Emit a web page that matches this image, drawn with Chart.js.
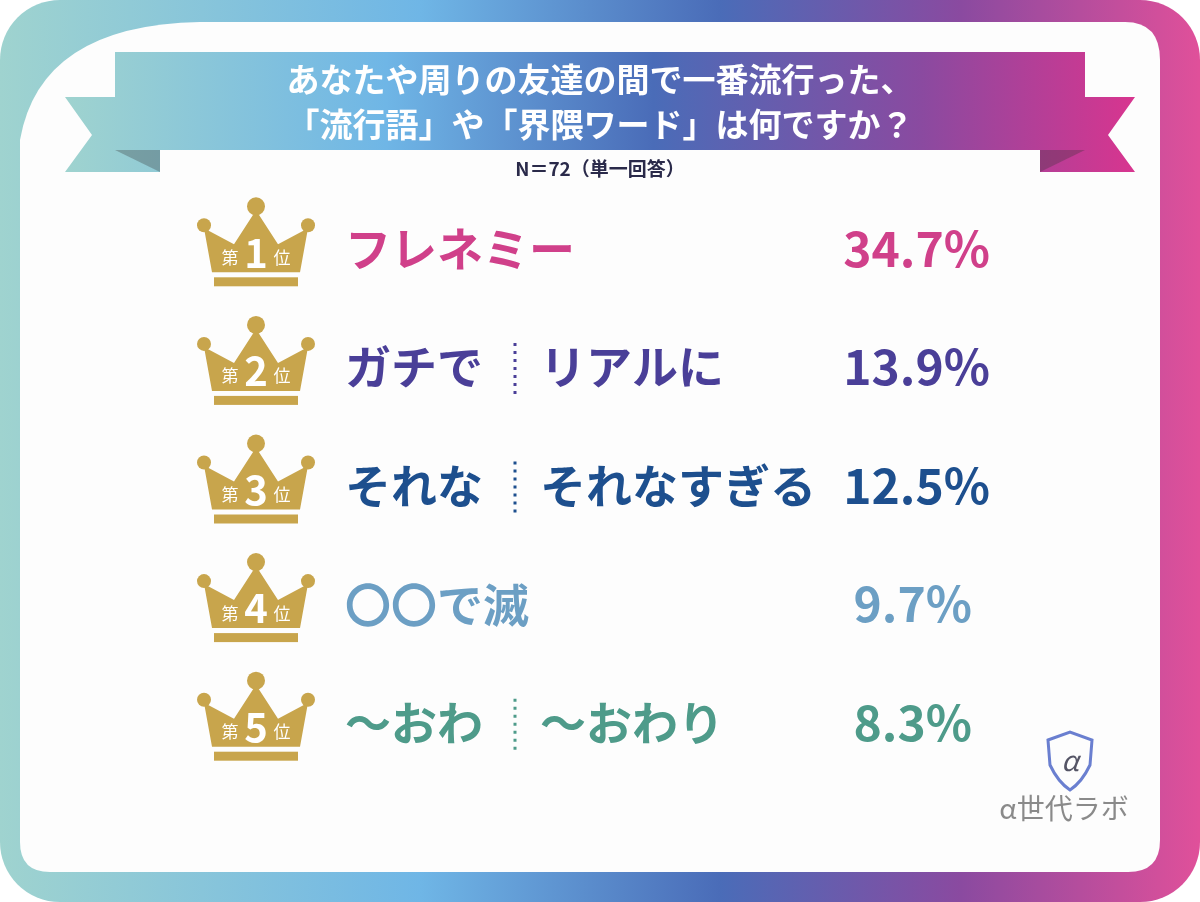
<!DOCTYPE html>
<html><head><meta charset="utf-8">
<script src="https://cdn.jsdelivr.net/npm/chart.js@4"></script>
<style>html,body{margin:0;padding:0;background:#fff}#c{display:block}</style>
</head><body>
<div style="width:1200px;height:902px"><canvas id="c"></canvas></div>
<script>
const ranks = ['1','2','3','4','5'];
const wordsA = ['フレネミー','ガチで','それな','〇〇で滅','～おわ'];
const wordsB = ['','リアルに','それなすぎる','','～おわり'];
const shares = [34.7,13.9,12.5,9.7,8.3];
const rowColors = ['#d0408a','#4a3f98','#1d4f8e','#6c9fc4','#4e9b8a'];
const titleLines = ['あなたや周りの友達の間で一番流行った、','「流行語」や「界隈ワード」は何ですか？'];
const sampleNote = 'N＝72（単一回答）';
const F = '"Noto Sans CJK JP","Noto Sans",sans-serif';

function rr(ctx,x,y,w,h,r){ctx.beginPath();ctx.moveTo(x+r,y);ctx.arcTo(x+w,y,x+w,y+h,r);ctx.arcTo(x+w,y+h,x,y+h,r);ctx.arcTo(x,y+h,x,y,r);ctx.arcTo(x,y,x+w,y,r);ctx.closePath();}

const deco = {
 id:'deco',
 beforeDraw(chart){
  const ctx=chart.ctx;ctx.save();
  const g=ctx.createLinearGradient(0,0,1200,0);
  g.addColorStop(0,'#9fd3cf');g.addColorStop(0.35,'#6fb6e6');g.addColorStop(0.6,'#4a6cb8');g.addColorStop(0.8,'#8a4aa0');g.addColorStop(1,'#e0509a');
  ctx.fillStyle=g;rr(ctx,0,0,1200,902,60);ctx.fill();
  ctx.fillStyle='#fdfdfd';
  ctx.beginPath();ctx.moveTo(20,140);ctx.quadraticCurveTo(40,25,200,22);ctx.lineTo(1125,22);ctx.quadraticCurveTo(1160,22,1160,60);
  ctx.lineTo(1160,840);ctx.quadraticCurveTo(1160,872,1128,872);ctx.lineTo(50,872);ctx.quadraticCurveTo(20,872,20,842);ctx.closePath();ctx.fill();
  const g2=ctx.createLinearGradient(65,0,1135,0);
  g2.addColorStop(0,'#9fd3cf');g2.addColorStop(0.3,'#6fb6e6');g2.addColorStop(0.55,'#4a6cb8');g2.addColorStop(0.8,'#8a4aa0');g2.addColorStop(1,'#d8358f');
  ctx.fillStyle=g2;
  ctx.beginPath();ctx.moveTo(65,97);ctx.lineTo(160,97);ctx.lineTo(160,172);ctx.lineTo(65,172);ctx.lineTo(92,135);ctx.closePath();ctx.fill();
  ctx.beginPath();ctx.moveTo(1135,97);ctx.lineTo(1040,97);ctx.lineTo(1040,172);ctx.lineTo(1135,172);ctx.lineTo(1108,135);ctx.closePath();ctx.fill();
  ctx.globalAlpha=0.3;ctx.fillStyle='#333';
  ctx.beginPath();ctx.moveTo(115,150);ctx.lineTo(160,150);ctx.lineTo(160,172);ctx.closePath();ctx.fill();
  ctx.beginPath();ctx.moveTo(1085,150);ctx.lineTo(1040,150);ctx.lineTo(1040,172);ctx.closePath();ctx.fill();
  ctx.globalAlpha=1;ctx.fillStyle=g2;ctx.fillRect(115,52,970,98);
  ctx.fillStyle='#fff';ctx.font='bold 33px '+F;ctx.textAlign='center';ctx.textBaseline='middle';
  ctx.fillText(titleLines[0],600,79);ctx.fillText(titleLines[1],600,124);
  ctx.fillStyle='#2a2a4a';ctx.font='bold 19px '+F;ctx.fillText(sampleNote,600,169);
  ctx.strokeStyle='#6a7fd0';ctx.lineWidth=3;
  ctx.beginPath();ctx.moveTo(1048,740);ctx.lineTo(1070,732);ctx.lineTo(1092,740);ctx.lineTo(1090,765);ctx.quadraticCurveTo(1082,782,1070,790);ctx.quadraticCurveTo(1058,782,1050,765);ctx.closePath();ctx.stroke();
  ctx.fillStyle='#556';ctx.font='italic 28px '+F;ctx.fillText('α',1070,760);
  ctx.fillStyle='#8a8a8a';ctx.font='28px '+F;ctx.fillText('α世代ラボ',1064,808);
  ctx.restore();
 },
 afterDatasetsDraw(chart){
  const ctx=chart.ctx, ys=chart.scales.y;ctx.save();
  ranks.forEach((r,i)=>{
   const cy=ys.getPixelForValue(i), cx=256;
   ctx.fillStyle='#c8a54c';
   ctx.beginPath();ctx.moveTo(cx-44,cy+24);ctx.lineTo(cx-52,cy-20);ctx.lineTo(cx-22,cy-4);ctx.lineTo(cx,cy-38);ctx.lineTo(cx+22,cy-4);ctx.lineTo(cx+52,cy-20);ctx.lineTo(cx+44,cy+24);ctx.closePath();ctx.fill();
   [[-52,-23,7],[0,-42,9],[52,-23,7]].forEach(([dx,dy,rad])=>{ctx.beginPath();ctx.arc(cx+dx,cy+dy,rad,0,7);ctx.fill();});
   ctx.fillRect(cx-42,cy+29,84,9);
   ctx.fillStyle='#fff';ctx.textAlign='center';ctx.textBaseline='middle';
   ctx.font='17px '+F;ctx.fillText('第',cx-26,cy+9);ctx.fillText('位',cx+26,cy+9);
   ctx.font='bold 40px '+F;ctx.fillText(r,cx,cy+4);
   ctx.fillStyle=rowColors[i];ctx.textAlign='left';ctx.font='bold 46px '+F;
   ctx.fillText(wordsA[i],345,cy);
   if(wordsB[i]){ctx.fillText(wordsB[i],540,cy);
     ctx.strokeStyle=rowColors[i];ctx.lineWidth=3;ctx.setLineDash([3,5]);
     ctx.beginPath();ctx.moveTo(515,cy-24);ctx.lineTo(515,cy+30);ctx.stroke();ctx.setLineDash([]);}
   ctx.textAlign='right';ctx.font='bold 48px '+F;
   ctx.fillText(shares[i].toFixed(1)+'%', i<3?990:972, cy);
  });
  ctx.restore();
 }
};

new Chart(document.getElementById('c'),{
 type:'bar',
 data:{labels:ranks,datasets:[{data:shares,backgroundColor:'rgba(0,0,0,0)'}]},
 options:{indexAxis:'y',responsive:true,maintainAspectRatio:false,animation:false,
  layout:{padding:{top:189,bottom:120,left:0,right:0}},
  plugins:{legend:{display:false},tooltip:{enabled:false}},
  scales:{x:{display:false,min:0,max:40},y:{display:false}}},
 plugins:[deco]
});
</script></body></html>
